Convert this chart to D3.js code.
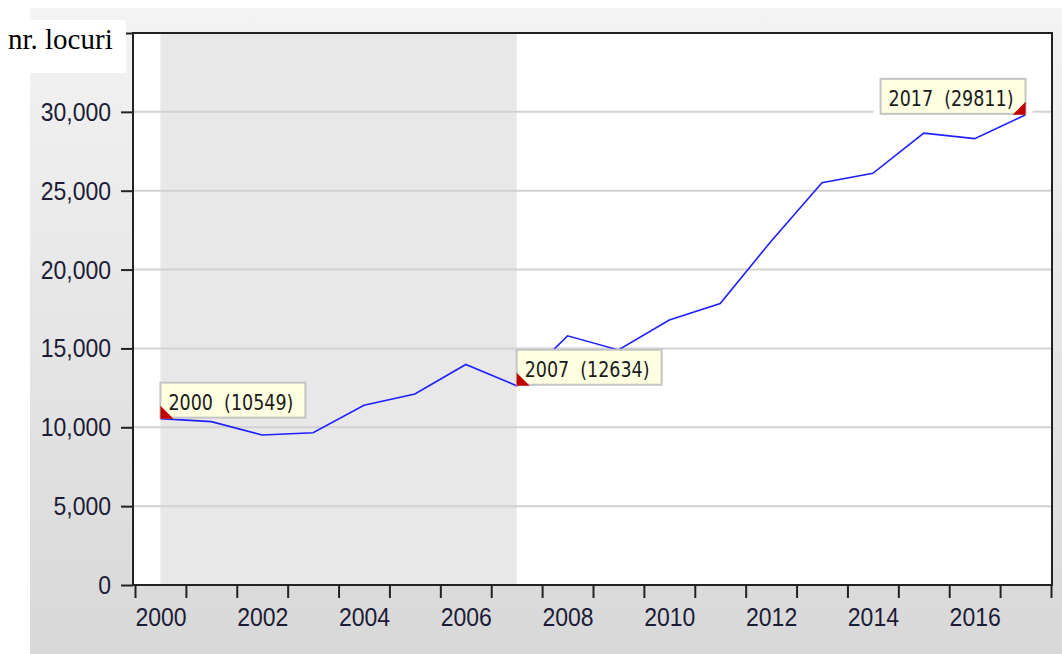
<!DOCTYPE html>
<html>
<head>
<meta charset="utf-8">
<script src="https://cdn.jsdelivr.net/npm/d3@7"></script>
<style>
  body { margin: 0; background: #fff; }
  svg { display: block; }
</style>
</head>
<body>
<script>
// data
var years = [2000, 2001, 2002, 2003, 2004, 2005, 2006, 2007, 2008, 2009,
             2010, 2011, 2012, 2013, 2014, 2015, 2016, 2017];
var values = [10549, 10360, 9510, 9650, 11400, 12110, 13980, 12634, 15800, 14900,
              16800, 17850, 21800, 25500, 26100, 28650, 28300, 29811];
var yTicks = [0, 5000, 10000, 15000, 20000, 25000, 30000, 35000];
var xLabelYears = [2000, 2002, 2004, 2006, 2008, 2010, 2012, 2014, 2016];
var shadeYears = [2000, 2007];
var noteYears = [2000, 2007, 2017];
var noteSides = ["left", "left", "right"];
var yTitle = "nr. locuri";

var width = 1062;
var height = 654;
var stretch = 1.16; // the picture's text looks a bit tall

var svg = d3.select("body")
  .append("svg")
    .attr("width", width)
    .attr("height", height);

var defs = svg.append("defs");
var grad = defs.append("linearGradient")
    .attr("id", "bg")
    .attr("x1", 0).attr("y1", 0).attr("x2", 0).attr("y2", 1);
grad.append("stop").attr("offset", "0%").attr("stop-color", "#f3f3f3");
grad.append("stop").attr("offset", "100%").attr("stop-color", "#d8d8d8");

// grey panel
svg.append("rect")
    .attr("x", 30).attr("y", 8)
    .attr("width", width - 30).attr("height", height - 8)
    .attr("fill", "url(#bg)");

var plotL = 133, plotR = 1052, plotT = 33, plotB = 585;

var x = d3.scaleLinear()
    .domain([1999.5, 2017.5])
    .range([135, 1051]);

var y = d3.scaleLinear()
    .domain([0, 35000])
    .range([plotB, plotT]);

// plot area
svg.append("rect")
    .attr("x", plotL).attr("y", plotT)
    .attr("width", plotR - plotL).attr("height", plotB - plotT)
    .attr("fill", "#fff");

// shaded period
svg.append("rect")
    .attr("x", x(shadeYears[0]))
    .attr("y", plotT)
    .attr("width", x(shadeYears[1]) - x(shadeYears[0]))
    .attr("height", plotB - plotT)
    .attr("fill", "#e8e8e8");

// grid
svg.append("g")
  .selectAll("line")
  .data(yTicks.filter(function(d) { return d > 0 && d < 35000; }))
  .enter()
  .append("line")
    .attr("x1", plotL).attr("x2", plotR)
    .attr("y1", function(d) { return y(d); })
    .attr("y2", function(d) { return y(d); })
    .attr("stroke", "#d2d2d2")
    .attr("stroke-width", 2);

// white patches behind right-hand notes go under the line
var padLayer = svg.append("g");

// series line
var line = d3.line()
    .x(function(d, i) { return x(years[i]); })
    .y(function(d) { return y(d); });

svg.append("path")
    .datum(values)
    .attr("d", line)
    .attr("fill", "none")
    .attr("stroke", "#1f1fff")
    .attr("stroke-width", 1.6);

// y axis
var yAxis = svg.append("g")
    .attr("transform", "translate(" + plotL + ",0)")
    .call(d3.axisLeft(y)
      .tickValues(yTicks)
      .tickSize(12)
      .tickPadding(10)
      .tickFormat(function(d) { return d < 35000 ? d3.format(",")(d) : ""; }));

yAxis.select(".domain").remove();
yAxis.selectAll(".tick line").attr("stroke", "#222").attr("stroke-width", 2);
yAxis.selectAll(".tick text")
    .attr("transform", "scale(1," + stretch + ")")
    .style("font-family", "'Liberation Sans', Arial, sans-serif")
    .style("font-size", "23px")
    .attr("fill", "#1c1c36");

// x axis: ticks on year boundaries, labels on every other year
var bounds = d3.range(1999.5, 2018, 1);
var xAxis = svg.append("g")
    .attr("transform", "translate(0," + plotB + ")")
    .call(d3.axisBottom(x)
      .tickValues(bounds)
      .tickSize(13)
      .tickFormat(""));
xAxis.select(".domain").remove();
xAxis.selectAll(".tick line").attr("stroke", "#222").attr("stroke-width", 2);

var xLab = svg.append("g")
    .attr("transform", "translate(0," + plotB + ")")
    .call(d3.axisBottom(x)
      .tickValues(xLabelYears)
      .tickSize(0)
      .tickFormat(d3.format("d")));
xLab.select(".domain").remove();
xLab.selectAll(".tick text")
    .attr("y", 19)
    .attr("transform", "scale(1," + stretch + ")")
    .style("font-family", "'Liberation Sans', Arial, sans-serif")
    .style("font-size", "23px")
    .attr("fill", "#1c1c36");

// frame
svg.append("rect")
    .attr("x", plotL).attr("y", plotT)
    .attr("width", plotR - plotL).attr("height", plotB - plotT)
    .attr("fill", "none")
    .attr("stroke", "#222")
    .attr("stroke-width", 2);

// y title on its white patch
svg.append("rect")
    .attr("x", 0).attr("y", 20)
    .attr("width", 126).attr("height", 53)
    .attr("fill", "#fff");
svg.append("text")
    .attr("x", 8).attr("y", 49)
    .style("font-family", "'Liberation Serif', 'Times New Roman', serif")
    .style("font-size", "29px")
    .attr("fill", "#000")
    .text(yTitle);

// point notes
var notes = svg.append("g");
noteYears.forEach(function(yr, k) {
  var i = years.indexOf(yr);
  var px = x(yr), py = y(values[i]);
  var side = noteSides[k];
  var g = notes.append("g");

  var t = g.append("text")
    .attr("xml:space", "preserve")
    .style("white-space", "pre")
    .style("font-family", "'DejaVu Sans', Verdana, sans-serif")
    .style("font-size", "17.5px")
    .attr("fill", "#1a1a1a")
    .text(yr + "  (" + values[i] + ")");
  var tw = t.node().getComputedTextLength();
  var bw = tw + 20, bh = 35;
  var bx = side == "left" ? px : px - bw;
  var by = py - bh - 1;

  if (side == "right") {
    padLayer.append("rect")
      .attr("x", bx - 7).attr("y", by)
      .attr("width", bw + 14).attr("height", bh + 8)
      .attr("fill", "#fff");
  }
  g.insert("rect", "text")
    .attr("x", bx).attr("y", by)
    .attr("width", bw).attr("height", bh)
    .attr("fill", "#ffffe1")
    .attr("stroke", "#c4c4c4")
    .attr("stroke-width", 2);

  t.attr("transform", "translate(" + (bx + 8) + "," + (by + bh - 8) + ") scale(1," + stretch + ")");

  var tri = side == "left"
    ? [[px, py - 13], [px, py], [px + 13, py]]
    : [[px, py - 13], [px, py], [px - 13, py]];
  g.append("path")
    .attr("d", "M" + tri.join("L") + "Z")
    .attr("fill", "#c00000");
});
</script>
</body>
</html>
